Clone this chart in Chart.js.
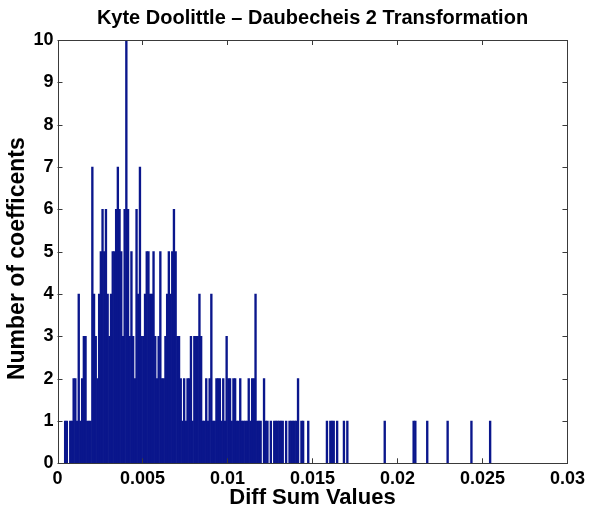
<!DOCTYPE html>
<html>
<head>
<meta charset="utf-8">
<script src="https://cdn.jsdelivr.net/npm/chart.js@4/dist/chart.umd.min.js"></script>
<style>
  html, body { margin: 0; padding: 0; background: #fff; }
  canvas { display: block; }
</style>
</head>
<body>
<canvas id="c" width="590" height="514"></canvas>
<script>
// ---- data (histogram bins; empty bins omitted) ----
const binCenters = [
  0.00045, 0.00055, 0.00075, 0.00085, 0.00095, 0.00105, 0.00115, 0.00125, 0.00135, 0.00145,
  0.00155, 0.00165, 0.00175, 0.00185, 0.00195, 0.00205, 0.00215, 0.00225, 0.00235, 0.00245,
  0.00255, 0.00265, 0.00275, 0.00285, 0.00295, 0.00305, 0.00315, 0.00325, 0.00335, 0.00345,
  0.00355, 0.00365, 0.00375, 0.00385, 0.00395, 0.00405, 0.00415, 0.00425, 0.00435, 0.00445,
  0.00455, 0.00465, 0.00475, 0.00485, 0.00495, 0.00505, 0.00515, 0.00525, 0.00535, 0.00545,
  0.00555, 0.00565, 0.00575, 0.00585, 0.00595, 0.00605, 0.00615, 0.00625, 0.00635, 0.00645,
  0.00655, 0.00665, 0.00675, 0.00685, 0.00695, 0.00705, 0.00715, 0.00725, 0.00735, 0.00745,
  0.00755, 0.00765, 0.00775, 0.00785, 0.00795, 0.00805, 0.00815, 0.00825, 0.00835, 0.00845,
  0.00855, 0.00865, 0.00875, 0.00885, 0.00895, 0.00905, 0.00915, 0.00925, 0.00935, 0.00945,
  0.00955, 0.00965, 0.00975, 0.00985, 0.00995, 0.01005, 0.01015, 0.01025, 0.01035, 0.01045,
  0.01055, 0.01065, 0.01075, 0.01085, 0.01095, 0.01105, 0.01115, 0.01125, 0.01135, 0.01145,
  0.01155, 0.01165, 0.01175, 0.01185, 0.01195, 0.01215, 0.01225, 0.01235, 0.01255, 0.01275,
  0.01285, 0.01295, 0.01305, 0.01315, 0.01325, 0.01345, 0.01365, 0.01375, 0.01385, 0.01395,
  0.01405, 0.01415, 0.01435, 0.01445, 0.01475, 0.01585, 0.01605, 0.01615, 0.01625, 0.01645,
  0.01685, 0.01705, 0.01925, 0.02095, 0.02105, 0.02175, 0.02295, 0.02435, 0.02545
];
const counts = [
  1, 1, 1, 1, 2, 2, 1, 4, 1, 2,
  3, 3, 1, 1, 1, 7, 4, 3, 2, 4,
  5, 6, 5, 6, 4, 3, 4, 5, 5, 6,
  7, 6, 5, 3, 6, 10, 6, 3, 5, 3,
  2, 6, 4, 7, 3, 3, 4, 5, 5, 4,
  4, 5, 3, 2, 3, 5, 2, 2, 3, 4,
  5, 4, 5, 6, 5, 3, 3, 2, 1, 2,
  1, 2, 2, 3, 1, 3, 3, 3, 4, 3,
  1, 1, 2, 1, 2, 4, 1, 1, 2, 2,
  2, 1, 2, 1, 3, 2, 2, 1, 2, 2,
  1, 1, 2, 1, 1, 1, 1, 2, 1, 2,
  2, 4, 1, 1, 1, 2, 1, 1, 1, 1,
  1, 1, 1, 1, 1, 1, 1, 1, 1, 1,
  1, 2, 1, 1, 1, 1, 1, 1, 1, 1,
  1, 1, 1, 1, 1, 1, 1, 1, 1
];
const xTickValues = [0, 0.005, 0.01, 0.015, 0.02, 0.025, 0.03];
const xTickLabels = ['0', '0.005', '0.01', '0.015', '0.02', '0.025', '0.03'];
const yTickValues = [0, 1, 2, 3, 4, 5, 6, 7, 8, 9, 10];
const yTickLabels = ['0', '1', '2', '3', '4', '5', '6', '7', '8', '9', '10'];
const titleText = 'Kyte Doolittle \u2013 Daubecheis 2 Transformation';
const xTitle = 'Diff Sum Values';
const yTitle = 'Number of coefficents';

// ---- chart ----
const FONT = '"Liberation Sans", Arial, Helvetica, sans-serif';
const BAR = '#0a168c';
const AXIS = '#3a3a3a';

const boxTicks = {
  id: 'boxTicks',
  afterDatasetsDraw(chart) {
    const {ctx, chartArea: a, scales: {x, y}} = chart;
    const L = 5;
    ctx.save();
    ctx.strokeStyle = AXIS;
    ctx.lineWidth = 1;
    ctx.beginPath();
    xTickValues.forEach(v => {
      const px = Math.round(x.getPixelForValue(v)) + 0.5;
      ctx.moveTo(px, a.bottom); ctx.lineTo(px, a.bottom - L);
      ctx.moveTo(px, a.top); ctx.lineTo(px, a.top + L);
    });
    yTickValues.forEach(v => {
      const py = Math.round(y.getPixelForValue(v)) + 0.5;
      ctx.moveTo(a.left, py); ctx.lineTo(a.left + L, py);
      ctx.moveTo(a.right, py); ctx.lineTo(a.right - L, py);
    });
    ctx.stroke();
    ctx.strokeRect(Math.round(a.left) + 0.5, Math.round(a.top) + 0.5,
                   Math.round(a.right) - Math.round(a.left), Math.round(a.bottom) - Math.round(a.top));
    ctx.restore();
  }
};

// y axis label, drawn as rotated text beside the y scale
const yLabel = {
  id: 'yLabel',
  afterDraw(chart) {
    const {ctx, chartArea: a} = chart;
    ctx.save();
    ctx.translate(18, (a.top + a.bottom) / 2 + 7);
    ctx.rotate(-Math.PI / 2);
    ctx.font = 'bold 23px ' + FONT;
    ctx.fillStyle = '#000';
    ctx.textAlign = 'center';
    ctx.textBaseline = 'middle';
    ctx.fillText(yTitle, 0, 0);
    ctx.restore();
  }
};

new Chart(document.getElementById('c'), {
  type: 'bar',
  data: {
    datasets: [{
      data: binCenters.map((v, i) => ({x: v, y: counts[i]})),
      backgroundColor: BAR,
      borderWidth: 0,
      barPercentage: 1,
      categoryPercentage: 1
    }]
  },
  options: {
    responsive: false,
    animation: false,
    devicePixelRatio: 1,
    layout: {padding: {left: 0, right: 20, top: 0, bottom: 0}},
    plugins: {
      legend: {display: false},
      tooltip: {enabled: false},
      title: {
        display: true,
        text: titleText,
        color: '#000',
        fullSize: false,
        font: {family: FONT, size: 20, weight: 'bold', lineHeight: 1.2},
        padding: {top: 6, bottom: 10}
      }
    },
    scales: {
      x: {
        type: 'linear',
        min: 0,
        max: 0.03,
        offset: false,
        grid: {display: false, drawTicks: false, offset: false},
        border: {display: false},
        afterBuildTicks: s => { s.ticks = xTickValues.map(v => ({value: v})); },
        afterFit: s => { s.height = 50.7; },
        ticks: {
          color: '#000',
          padding: 5,
          maxRotation: 0,
          autoSkip: false,
          font: {family: FONT, size: 18, weight: 'bold'},
          callback: (v, i) => xTickLabels[i]
        },
        title: {
          display: true,
          text: xTitle,
          color: '#000',
          font: {family: FONT, size: 22, weight: 'bold', lineHeight: 1.2},
          padding: {top: 0, bottom: 3}
        }
      },
      y: {
        type: 'linear',
        min: 0,
        max: 10,
        grid: {display: false, drawTicks: false},
        border: {display: false},
        afterBuildTicks: s => { s.ticks = yTickValues.map(v => ({value: v})); },
        afterFit: s => { s.width = 57.5; },
        ticks: {
          color: '#000',
          padding: 4,
          autoSkip: false,
          font: {family: FONT, size: 18, weight: 'bold'},
          callback: (v, i) => yTickLabels[i]
        },
        title: {display: false}
      }
    }
  },
  plugins: [boxTicks, yLabel]
});
</script>
</body>
</html>
